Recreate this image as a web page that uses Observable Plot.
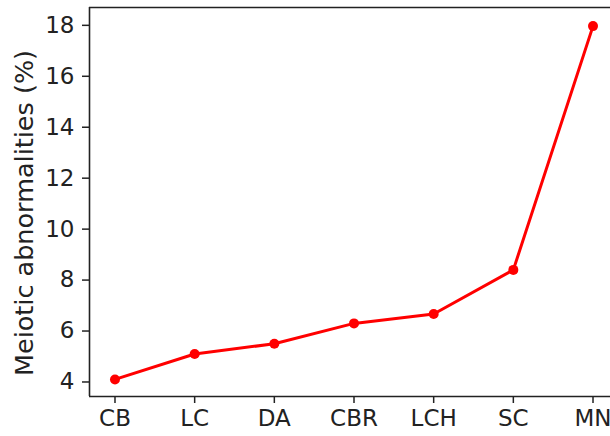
<!DOCTYPE html>
<html>
<head>
<meta charset="utf-8">
<script src="https://cdn.jsdelivr.net/npm/d3@7"></script>
<script src="https://cdn.jsdelivr.net/npm/@observablehq/plot@0.6"></script>
<style>
  html, body { margin: 0; padding: 0; background: #fff; overflow: hidden; }
  #chart svg { display: block; font-family: "DejaVu Sans", sans-serif; }
</style>
</head>
<body>
<div id="chart"></div>
<script>
const categories = ["CB", "LC", "DA", "CBR", "LCH", "SC", "MN"];
const values = [4.1, 5.1, 5.5, 6.3, 6.67, 8.4, 17.97];
const yTicks = [4, 6, 8, 10, 12, 14, 16, 18];
const yLabel = "Meiotic abnormalities (%)";

const data = categories.map((c, i) => ({i, c, v: values[i]}));
const xIdx = categories.map((c, i) => i);

const chart = Plot.plot({
  width: 610,
  height: 436,
  marginLeft: 89,
  marginTop: 7,
  marginBottom: 40,
  marginRight: 0,
  style: {fontFamily: "DejaVu Sans, sans-serif", background: "#fff"},
  x: {type: "linear", domain: [-0.32, 6.32], range: [89, 618]},
  y: {domain: [3.43, 18.7]},
  marks: [
    Plot.axisY(yTicks, {tickSize: 7, tickPadding: 8, fontSize: 23, strokeWidth: 1.5, stroke: "#222", fill: "#222", label: null}),
    Plot.axisX(xIdx, {tickSize: 7, tickPadding: 6, fontSize: 23, strokeWidth: 1.5, stroke: "#222", fill: "#222", tickFormat: i => categories[i], label: null}),
    Plot.ruleX([-0.32], {stroke: "#222", strokeWidth: 1.6}),
    Plot.ruleY([3.43], {stroke: "#222", strokeWidth: 1.6}),
    Plot.ruleY([18.7], {stroke: "#222", strokeWidth: 1.6}),
    Plot.text([yLabel], {frameAnchor: "left", rotate: -90, dx: -65, dy: 11, text: d => d, fontSize: 25.5, fill: "#222", textAnchor: "middle"}),
    Plot.line(data, {x: "i", y: "v", stroke: "#ff0000", strokeWidth: 3}),
    Plot.dot(data, {x: "i", y: "v", r: 5, fill: "#ff0000", stroke: "none"})
  ]
});
document.getElementById("chart").appendChild(chart);
</script>
</body>
</html>
